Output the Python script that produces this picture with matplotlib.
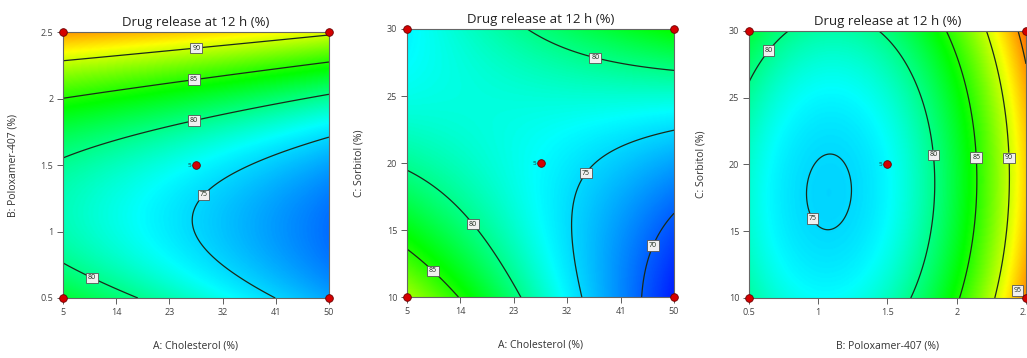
import numpy as np
import matplotlib.pyplot as plt
from matplotlib.colors import LinearSegmentedColormap

plt.rcParams['font.family'] = ['Open Sans', 'DejaVu Sans']

# quadratic response model (coded units)
# terms: 1, A, B, C, AB, AC, BC, A^2, B^2, C^2
model_terms = ['1', 'A', 'B', 'C', 'AB', 'AC', 'BC', 'AA', 'BB', 'CC']
model_coefs = [76.45, -3.45, 7.5, 1.0, 1.35, 7.45, -0.5, -0.25, 9.0, 2.95]

chol_range = [5, 50]
polox_range = [0.5, 2.5]
sorb_range = [10, 30]
chol_ticks = [5, 14, 23, 32, 41, 50]
polox_ticks = [0.5, 1, 1.5, 2, 2.5]
sorb_ticks = [10, 15, 20, 25, 30]

title = 'Drug release at 12 h (%)'
chol_label = 'A: Cholesterol (%)'
polox_label = 'B: Poloxamer-407 (%)'
sorb_label = 'C: Sorbitol (%)'

levels1 = [75, 80, 85, 90]
levels2 = [70, 75, 80, 85]
levels3 = [75, 80, 85, 90, 95]
center_runs = 5


def coded(v, rng):
    return (v - (rng[0] + rng[1]) / 2) / ((rng[1] - rng[0]) / 2)


def predict(A, B, C):
    b = model_coefs
    return (b[0] + b[1]*A + b[2]*B + b[3]*C + b[4]*A*B + b[5]*A*C + b[6]*B*C
            + b[7]*A**2 + b[8]*B**2 + b[9]*C**2)


cmap = LinearSegmentedColormap.from_list(
    'dx', [(0.0, '#0000ff'), (10.5/34, '#00ffff'), (18/34, '#00ff00'),
           (25.5/34, '#ffff00'), (1.0, '#ff0000')])
vmin, vmax = 66, 100

fig = plt.figure(figsize=(10.27, 3.58), dpi=100)
rects = [[0.0613, 0.1676, 0.259, 0.743],
         [0.3963, 0.170, 0.260, 0.749],
         [0.7293, 0.1676, 0.2697, 0.746]]

panels = [
    (chol_range, polox_range, chol_ticks, polox_ticks, chol_label, polox_label, 'AB', levels1,
     [(27.5, 2.40), (27.1, 2.16), (27.1, 1.85), (28.7, 1.28), (9.6, 0.62)]),
    (chol_range, sorb_range, chol_ticks, sorb_ticks, chol_label, sorb_label, 'AC', levels2,
     [(37.0, 28.3), (35.3, 19.2), (16.8, 15.7), (9.9, 12.2), (47.3, 13.7)]),
    (polox_range, sorb_range, polox_ticks, sorb_ticks, polox_label, sorb_label, 'BC', levels3,
     [(0.62, 28.7), (1.82, 20.7), (2.13, 20.5), (2.37, 20.5), (1.0, 16.2), (2.47, 10.6)]),
]

for rect, (xr, yr, xt, yt, xl, yl, pair, lev, lab_pos) in zip(rects, panels):
    ax = fig.add_axes(rect)
    xs = np.linspace(xr[0], xr[1], 300)
    ys = np.linspace(yr[0], yr[1], 300)
    X, Y = np.meshgrid(xs, ys)
    u, v = coded(X, xr), coded(Y, yr)
    zero = np.zeros_like(u)
    if pair == 'AB':
        Z = predict(u, v, zero)
    elif pair == 'AC':
        Z = predict(u, zero, v)
    else:
        Z = predict(zero, u, v)
    ax.pcolormesh(X, Y, Z, cmap=cmap, vmin=vmin, vmax=vmax, shading='gouraud')
    cs = ax.contour(X, Y, Z, levels=lev, colors='#1a2a1a', linewidths=0.9)
    texts = ax.clabel(cs, lev, manual=lab_pos, fmt='%d', fontsize=5,
                      inline=True, inline_spacing=1)
    for t in texts:
        t.set_rotation(0)
        t.set_bbox(dict(boxstyle='square,pad=0.25', fc='#f0f0f0', ec='#555555', lw=0.6))
        # keep the edge label inside the figure
        x0, y0 = t.get_position()
        if x0 > xr[1] - (xr[1] - xr[0]) * 0.04:
            t.set_position((xr[1] - (xr[1] - xr[0]) * 0.03, y0))
    # design points: corners and centre
    px = [xr[0], xr[1], xr[0], xr[1], (xr[0] + xr[1]) / 2]
    py = [yr[0], yr[0], yr[1], yr[1], (yr[0] + yr[1]) / 2]
    ax.plot(px, py, 'o', ms=5.5, mfc='#d40000', mec='#6a0000', mew=0.6,
            clip_on=False, zorder=5)
    ax.text(px[4] - (xr[1] - xr[0]) * 0.018, py[4], str(center_runs),
            fontsize=4.5, ha='right', va='center', color='#222222')
    ax.set_xlim(xr)
    ax.set_ylim(yr)
    ax.set_xticks(xt)
    ax.set_yticks(yt)
    ax.set_xticklabels([f'{t:g}' for t in xt])
    ax.set_yticklabels([f'{t:g}' for t in yt])
    ax.tick_params(direction='out', length=4, width=0.6, labelsize=6.5,
                   colors='#444444', pad=3)
    for s in ax.spines.values():
        s.set_color('#666666')
        s.set_linewidth(0.8)
    ax.set_title(title, fontsize=9.5, pad=4, color='#222222')
    ax.set_xlabel(xl, fontsize=7.5, labelpad=17, color='#333333')
    ax.set_ylabel(yl, fontsize=7.5, labelpad=16, color='#333333')

fig.savefig('out.png', dpi=100)
